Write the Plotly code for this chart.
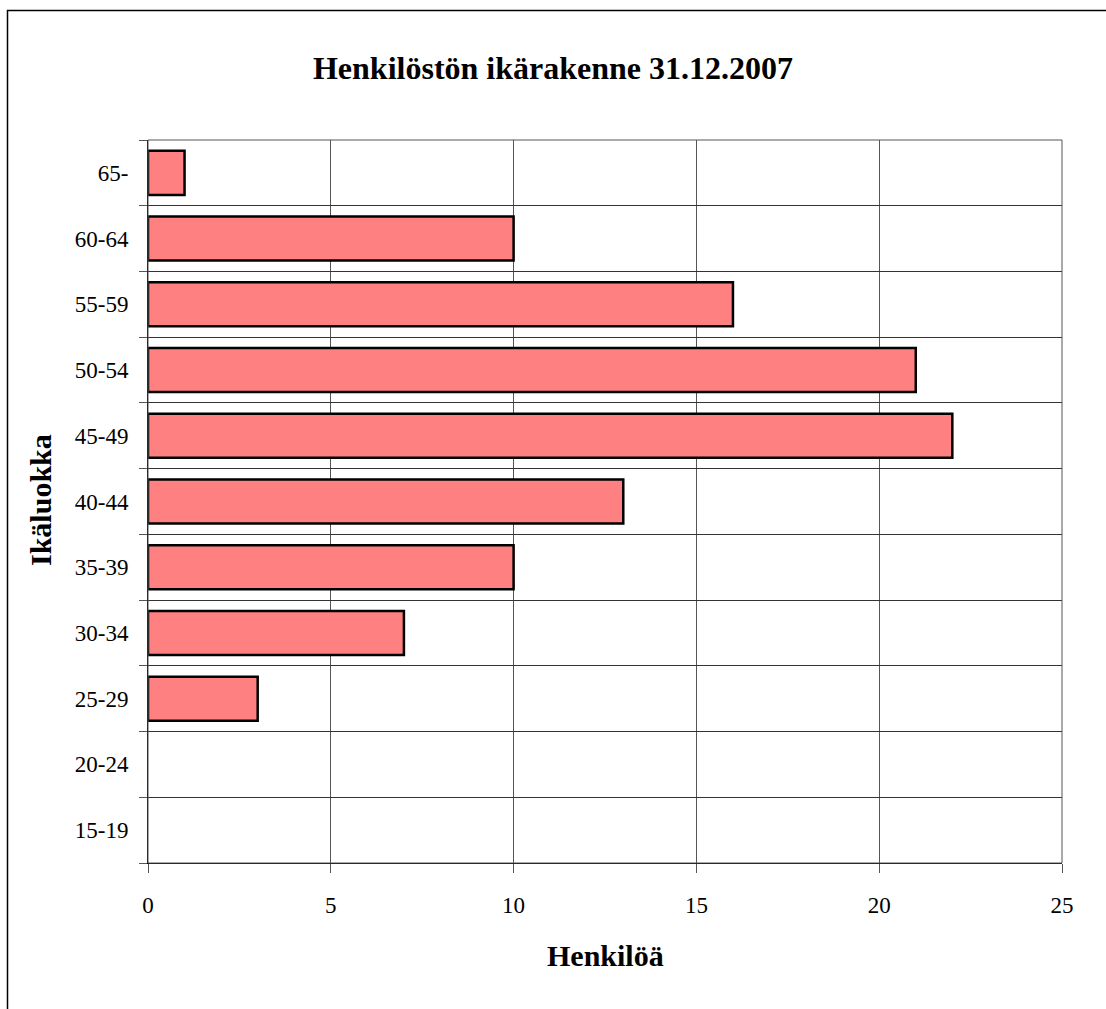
import plotly.graph_objects as go

categories = ["15-19", "20-24", "25-29", "30-34", "35-39", "40-44", "45-49", "50-54", "55-59", "60-64", "65-"]
values = [0, 0, 3, 7, 10, 13, 22, 21, 16, 10, 1]
x_ticks = [0, 5, 10, 15, 20, 25]

W, H = 1106, 1009
L, R, T, B = 148, 44, 140, 146
pw, ph = W - L - R, H - T - B

fig = go.Figure(go.Bar(
    x=values, y=categories, orientation="h",
    marker=dict(color="#FF8080",
                line=dict(color="black", width=[2.5 if v > 0 else 0 for v in values])),
    width=0.67,
))

font = "Liberation Serif, Times New Roman, serif"
fig.update_layout(
    width=W, height=H,
    margin=dict(l=L, r=R, t=T, b=B),
    paper_bgcolor="white", plot_bgcolor="white",
    font=dict(family=font, color="black", size=23),
    showlegend=False,
    title=dict(text="<b>Henkilöstön ikärakenne 31.12.2007</b>", x=0.5, xanchor="center",
               y=1 - 68 / H, yanchor="middle", yref="container", font=dict(size=32, family=font)),
    xaxis=dict(range=[0, 25], tickvals=x_ticks, showgrid=True, gridcolor="#555", gridwidth=1,
               showline=True, linecolor="black", linewidth=1, ticks="outside", ticklen=9,
               tickcolor="#555", zeroline=False, tickfont=dict(size=23), ticklabelstandoff=12),
    yaxis=dict(type="category", categoryorder="array", categoryarray=categories,
               tickson="boundaries", showgrid=True, gridcolor="#333", gridwidth=1,
               showline=True, linecolor="black", linewidth=1, ticks="outside", ticklen=8,
               tickcolor="#555", tickfont=dict(size=23), ticklabelstandoff=14),
    bargap=0.33,
    annotations=[
        dict(text="<b>Henkilöä</b>", xref="paper", yref="paper", x=0.5, y=-(955 - (H - B)) / ph,
             xanchor="center", yanchor="middle", showarrow=False, font=dict(size=30)),
        dict(text="<b>Ikäluokka</b>", xref="paper", yref="paper", x=(40 - L) / pw, y=(H - B - 500) / ph,
             xanchor="center", yanchor="middle", showarrow=False, textangle=-90, font=dict(size=30)),
    ],
)

# plot border (top/right gray)
fig.add_shape(type="rect", xref="paper", yref="paper", x0=0, x1=1, y0=0, y1=1,
              line=dict(color="#555", width=1), layer="above")
# outer chart border (extends beyond the image at right/bottom)
fig.add_shape(type="rect", xref="paper", yref="paper",
              x0=(7.5 - L) / pw, x1=(W + 20 - L) / pw,
              y0=-(B + 20) / ph, y1=(H - B - 10.5) / ph,
              line=dict(color="black", width=1.5), layer="above")

fig.write_html("out.html", config={"displayModeBar": False},
               post_script="document.body.style.margin='0';document.body.style.overflow='hidden';")
